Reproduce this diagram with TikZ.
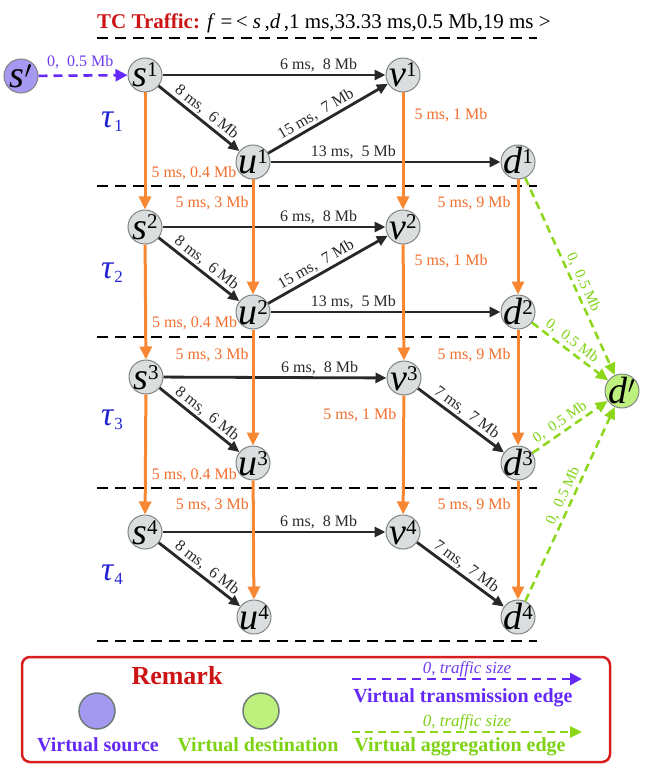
\documentclass[tikz,border=0pt]{standalone}
\usepackage{fontspec}
\setmainfont{Liberation Serif}
\usetikzlibrary{arrows.meta}
\definecolor{nodefill}{RGB}{218,222,222}
\definecolor{nodeborder}{RGB}{128,132,132}
\definecolor{edgeblack}{RGB}{40,40,40}
\definecolor{orangeL}{RGB}{247,135,50}
\definecolor{orangeT}{RGB}{242,110,45}
\definecolor{greenL}{RGB}{140,215,25}
\definecolor{greenT}{RGB}{125,210,20}
\definecolor{purpleL}{RGB}{100,40,248}
\definecolor{purpleT}{RGB}{110,60,240}
\definecolor{srcfill}{RGB}{165,152,240}
\definecolor{dstfill}{RGB}{190,240,125}
\definecolor{legborder}{RGB}{110,122,122}
\definecolor{titlered}{RGB}{205,20,20}
\definecolor{boxred}{RGB}{215,30,30}
\definecolor{taublue}{RGB}{35,35,210}
\newcommand{\fsz}[1]{\fontsize{#1}{#1}\selectfont}
\newcommand{\nlab}[2]{\fsz{38}\textit{#1}\raisebox{10pt}{\fsz{21}#2}}
\newcommand{\vn}[5]{\node[vnode] (#1) at (#2,#3) {};
  \node[ntext] (#1t) at ([yshift=-12pt]#1.center) {\nlab{#4}{#5}};}
\newcommand{\taulab}[3]{\node[taustyle] (#1) at (101,#2) {\textit{τ}\raisebox{-4pt}{\fsz{17}#3}};}
\tikzset{
  vnode/.style={circle, draw=nodeborder, fill=nodefill, line width=1pt, minimum size=34pt, inner sep=0pt},
  ntext/.style={inner sep=0pt, anchor=base},
  taustyle/.style={inner sep=0pt, anchor=base west, font=\fsz{34}, text=taublue},
  bedge/.style={draw=edgeblack, line width=2.8pt, -{Triangle[length=11pt,width=10pt]}},
  oedge/.style={draw=orangeL, line width=3pt, -{Triangle[length=13pt,width=12pt]}},
  gedge/.style={draw=greenL, line width=2.5pt, dash pattern=on 8pt off 5pt, -{Triangle[length=12pt,width=11pt]}},
  pedge/.style={draw=purpleL, line width=2.6pt, dash pattern=on 9pt off 6pt, -{Triangle[length=12pt,width=12pt]}},
  blabel/.style={font=\fsz{16}, text=edgeblack, sloped, above, inner sep=1.5pt},
  glabel/.style={font=\fsz{15}, text=greenT, sloped, above, inner sep=2pt},
  olab/.style={font=\fsz{16}, text=orangeT, inner sep=0pt},
  sepline/.style={draw=black, line width=1.9pt, dash pattern=on 11pt off 7pt},
  legtext/.style={font=\fsz{20}\bfseries, inner sep=0pt, anchor=base},
}
\begin{document}
\begin{tikzpicture}[x=1pt,y=-1pt]
\useasboundingbox (0,0) rectangle (665,767);

% title
\node[inner sep=0pt, anchor=base west, font=\fsz{21}] (title) at (97,29)
  {{\color{titlered}\bfseries TC Traffic:} \textit{f} =\,< \textit{s}\,,\textit{d}\,,1 ms,33.33 ms,0.5 Mb,19 ms >};

% separators
\foreach \yy/\nm in {38/a,186/b,337/c,488/d,641/e}{
  \coordinate (L\nm) at (97,\yy); \coordinate (R\nm) at (537,\yy);
  \draw[sepline] (L\nm) -- (R\nm);
}

% tau labels
\taulab{t1}{128}{1}
\taulab{t2}{278}{2}
\taulab{t3}{425}{3}
\taulab{t4}{580}{4}

% nodes
\node[vnode, fill=srcfill] (sp) at (21,76) {};
\node[ntext] (spt) at ([yshift=-12pt]sp.center) {\fsz{38}\textit{s}$'$};
\vn{s1}{145}{75}{s}{1}
\vn{s2}{145}{227}{s}{2}
\vn{s3}{146}{377}{s}{3}
\vn{s4}{145}{532}{s}{4}
\vn{u1}{253}{162}{u}{1}
\vn{u2}{253}{312}{u}{2}
\vn{u3}{253}{463}{u}{3}
\vn{u4}{254}{617}{u}{4}
\vn{v1}{403}{75}{v}{1}
\vn{v2}{403}{227}{v}{2}
\vn{v3}{404}{378}{v}{3}
\vn{v4}{403}{532}{v}{4}
\vn{d1}{518}{162}{d}{1}
\vn{d2}{518}{312}{d}{2}
\vn{d3}{518}{463}{d}{3}
\vn{d4}{518}{617}{d}{4}
\node[vnode, fill=dstfill] (dp) at (622,391) {};
\node[ntext] (dpt) at ([yshift=-12pt]dp.center) {\fsz{38}\textit{d}$'$};

% virtual transmission edge
\draw[pedge] (sp) -- node[above, pos=0.47, font=\fsz{16}, text=purpleT, inner sep=2pt, yshift=3pt] {0,~ 0.5 Mb} (s1);

% black edges
\draw[bedge] (s1) -- node[blabel, pos=0.7] {6 ms,~ 8 Mb} (v1);
\draw[bedge] (s1) -- node[blabel, pos=0.52] {8 ms,~ 6 Mb} (u1);
\draw[bedge] (u1) -- node[blabel, pos=0.44] {15 ms,~ 7 Mb} (v1);
\draw[bedge] (u1) -- node[blabel, pos=0.36] {13 ms,~ 5 Mb} (d1);
\draw[bedge] (s2) -- node[blabel, pos=0.7] {6 ms,~ 8 Mb} (v2);
\draw[bedge] (s2) -- node[blabel, pos=0.52] {8 ms,~ 6 Mb} (u2);
\draw[bedge] (u2) -- node[blabel, pos=0.44] {15 ms,~ 7 Mb} (v2);
\draw[bedge] (u2) -- node[blabel, pos=0.36] {13 ms,~ 5 Mb} (d2);
\draw[bedge] (s3) -- node[blabel, pos=0.7] {6 ms,~ 8 Mb} (v3);
\draw[bedge] (s3) -- node[blabel, pos=0.52] {8 ms,~ 6 Mb} (u3);
\draw[bedge] (v3) -- node[blabel, pos=0.5] {7 ms,~ 7 Mb} (d3);
\draw[bedge] (s4) -- node[blabel, pos=0.7] {6 ms,~ 8 Mb} (v4);
\draw[bedge] (s4) -- node[blabel, pos=0.52] {8 ms,~ 6 Mb} (u4);
\draw[bedge] (v4) -- node[blabel, pos=0.5] {7 ms,~ 7 Mb} (d4);

% orange edges
\draw[oedge] (s1) -- node[olab, pos=0.686, anchor=west, xshift=5pt] {5 ms, 0.4 Mb} (s2);
\draw[oedge] (s2) -- node[olab, pos=0.68, anchor=west, xshift=5pt] {5 ms, 0.4 Mb} (s3);
\draw[oedge] (s3) -- node[olab, pos=0.67, anchor=west, xshift=5pt] {5 ms, 0.4 Mb} (s4);
\draw[oedge] (u1) -- node[olab, pos=0.207, anchor=east, xshift=-3pt] {5 ms, 3 Mb} (u2);
\draw[oedge] (u2) -- node[olab, pos=0.22, anchor=east, xshift=-3pt] {5 ms, 3 Mb} (u3);
\draw[oedge] (u3) -- node[olab, pos=0.21, anchor=east, xshift=-3pt] {5 ms, 3 Mb} (u4);
\draw[oedge] (v1) -- node[olab, pos=0.195, anchor=west, xshift=10pt] {5 ms, 1 Mb} (v2);
\draw[oedge] (v2) -- node[olab, pos=0.145, anchor=west, xshift=10pt] {5 ms, 1 Mb} (v3);
\draw[oedge] (v3) -- node[olab, pos=0.167, anchor=east, xshift=-6pt] {5 ms, 1 Mb} (v4);
\draw[oedge] (d1) -- node[olab, pos=0.207, anchor=east, xshift=-6pt] {5 ms, 9 Mb} (d2);
\draw[oedge] (d2) -- node[olab, pos=0.22, anchor=east, xshift=-6pt] {5 ms, 9 Mb} (d3);
\draw[oedge] (d3) -- node[olab, pos=0.21, anchor=east, xshift=-6pt] {5 ms, 9 Mb} (d4);

% virtual aggregation edges
\draw[gedge] (d1) -- node[glabel, pos=0.55] {0,~ 0.5 Mb} (dp);
\draw[gedge] (d2) -- node[glabel, pos=0.45] {0,~ 0.5 Mb} (dp);
\draw[gedge] (d3) -- node[glabel, pos=0.44] {0,~ 0.5 Mb} (dp);
\draw[gedge] (d4) -- node[glabel, pos=0.52] {0,~ 0.5 Mb} (dp);

% legend
\node[draw=boxred, line width=2.5pt, rounded corners=8pt, minimum width=588pt, minimum height=105pt, inner sep=0pt] (box) at (316,709.5) {};
\node[font=\fsz{26}\bfseries, text=titlered, inner sep=0pt, anchor=base] (remark) at (177,684) {Remark};
\node[circle, draw=legborder, line width=1.5pt, fill=srcfill, minimum size=36pt, inner sep=0pt] (lsrc) at (97,711) {};
\node[circle, draw=legborder, line width=1.5pt, fill=dstfill, minimum size=36pt, inner sep=0pt] (ldst) at (261,711) {};
\node[legtext, text=purpleL] (lsrct) at (98,751) {Virtual source};
\node[legtext, text=greenT] (ldstt) at (258,751) {Virtual destination};
\coordinate (lp1) at (352,679); \coordinate (lp2) at (582,679);
\draw[pedge] (lp1) -- node[above, font=\fsz{17}\itshape, text=purpleT, inner sep=1pt] (lpl) {0, traffic size} (lp2);
\node[legtext, text=purpleL] (lpt) at (463,702) {Virtual transmission edge};
\coordinate (lg1) at (352,732); \coordinate (lg2) at (582,732);
\draw[gedge] (lg1) -- node[above, font=\fsz{17}\itshape, text=greenT, inner sep=1pt] (lgl) {0, traffic size} (lg2);
\node[legtext, text=greenT] (lgt) at (460,751) {Virtual aggregation edge};
\end{tikzpicture}
\end{document}
